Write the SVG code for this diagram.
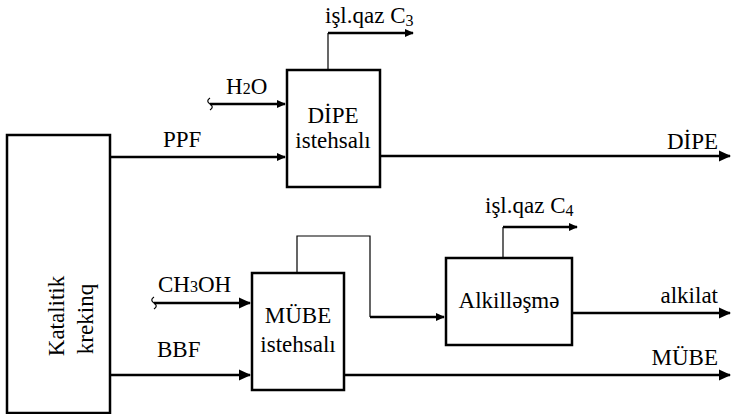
<svg xmlns="http://www.w3.org/2000/svg" width="731" height="414" viewBox="0 0 731 414">
<defs>
<style>
.box{fill:#fff;stroke:#000;stroke-width:2.5}
.flow{fill:none;stroke:#000;stroke-width:2.5}
.thin{fill:none;stroke:#000;stroke-width:1.2}
</style>
<marker id="ah" viewBox="0 0 12 12" refX="11" refY="6" markerWidth="12" markerHeight="12" markerUnits="userSpaceOnUse" orient="auto">
<path d="M0,0.5 L12,6 L0,11.5 Z" fill="#000"/>
</marker>
<marker id="ahs" viewBox="0 0 10 10" refX="9" refY="5" markerWidth="9" markerHeight="9" markerUnits="userSpaceOnUse" orient="auto">
<path d="M0,0.5 L10,5 L0,9.5 Z" fill="#000"/>
</marker>
</defs>
<rect width="731" height="414" fill="#fff"/>

<g id="connectors">
<path class="flow" d="M110,157 H285" marker-end="url(#ahs)"/>
<path class="flow" d="M210,104 H285" marker-end="url(#ahs)"/>
<path class="thin" d="M210,98 c-3,2 -3,4 0,6 c3,2 3,4 0,6"/>
<path class="thin" d="M328,70 V33"/>
<path class="flow" d="M328,33 H413" marker-end="url(#ahs)"/>
<path class="flow" d="M380,156 H730" marker-end="url(#ah)"/>
<path class="flow" d="M110,375 H250" marker-end="url(#ah)"/>
<path class="flow" d="M154,303 H250" marker-end="url(#ah)"/>
<path class="thin" d="M154,297 c-3,2 -3,4 0,6 c3,2 3,4 0,6"/>
<path class="flow" d="M344,375 H730" marker-end="url(#ah)"/>
<path class="thin" d="M297,273 V236 H370 V317"/>
<path class="flow" d="M370,317 H444" marker-end="url(#ahs)"/>
<path class="thin" d="M503,258 V227"/>
<path class="flow" d="M503,227 H577" marker-end="url(#ahs)"/>
<path class="flow" d="M572,313 H730" marker-end="url(#ah)"/>
</g>

<g id="labels">
<text x="163" y="147" font-family="Liberation Serif" font-size="23">PPF</text>
<text x="226" y="94" font-family="Liberation Serif" font-size="23">H<tspan font-size="16">2</tspan>O</text>
<text x="325" y="23" font-family="Liberation Serif" font-size="23">işl.qaz C<tspan font-size="16" dy="3">3</tspan></text>
<text x="718" y="149" font-family="Liberation Serif" font-size="23" text-anchor="end">DİPE</text>
<text x="158" y="292" font-family="Liberation Serif" font-size="23">CH<tspan font-size="16">3</tspan>OH</text>
<text x="157" y="357" font-family="Liberation Serif" font-size="23">BBF</text>
<text x="485" y="213" font-family="Liberation Serif" font-size="23">işl.qaz C<tspan font-size="16" dy="3">4</tspan></text>
<text x="718" y="303" font-family="Liberation Serif" font-size="23" text-anchor="end">alkilat</text>
<text x="718" y="365" font-family="Liberation Serif" font-size="23" text-anchor="end">MÜBE</text>
</g>

<g id="krekinq">
<rect class="box" x="7" y="135" width="103" height="278"/>
<text transform="translate(64,316) rotate(-90)" font-family="Liberation Serif" font-size="23" text-anchor="middle">Katalitik</text>
<text transform="translate(93,319) rotate(-90)" font-family="Liberation Serif" font-size="23" text-anchor="middle">krekinq</text>
</g>

<g id="dipe">
<rect class="box" x="287" y="70" width="93" height="117"/>
<text x="333" y="123" font-family="Liberation Serif" font-size="23" text-anchor="middle">DİPE</text>
<text x="333" y="148" font-family="Liberation Serif" font-size="23" text-anchor="middle">istehsalı</text>
</g>

<g id="mube">
<rect class="box" x="252" y="273" width="92" height="117"/>
<text x="298" y="323" font-family="Liberation Serif" font-size="23" text-anchor="middle">MÜBE</text>
<text x="298" y="352" font-family="Liberation Serif" font-size="23" text-anchor="middle">istehsalı</text>
</g>

<g id="alkil">
<rect class="box" x="446" y="258" width="126" height="87"/>
<text x="509" y="308" font-family="Liberation Serif" font-size="23" text-anchor="middle">Alkilləşmə</text>
</g>
</svg>
